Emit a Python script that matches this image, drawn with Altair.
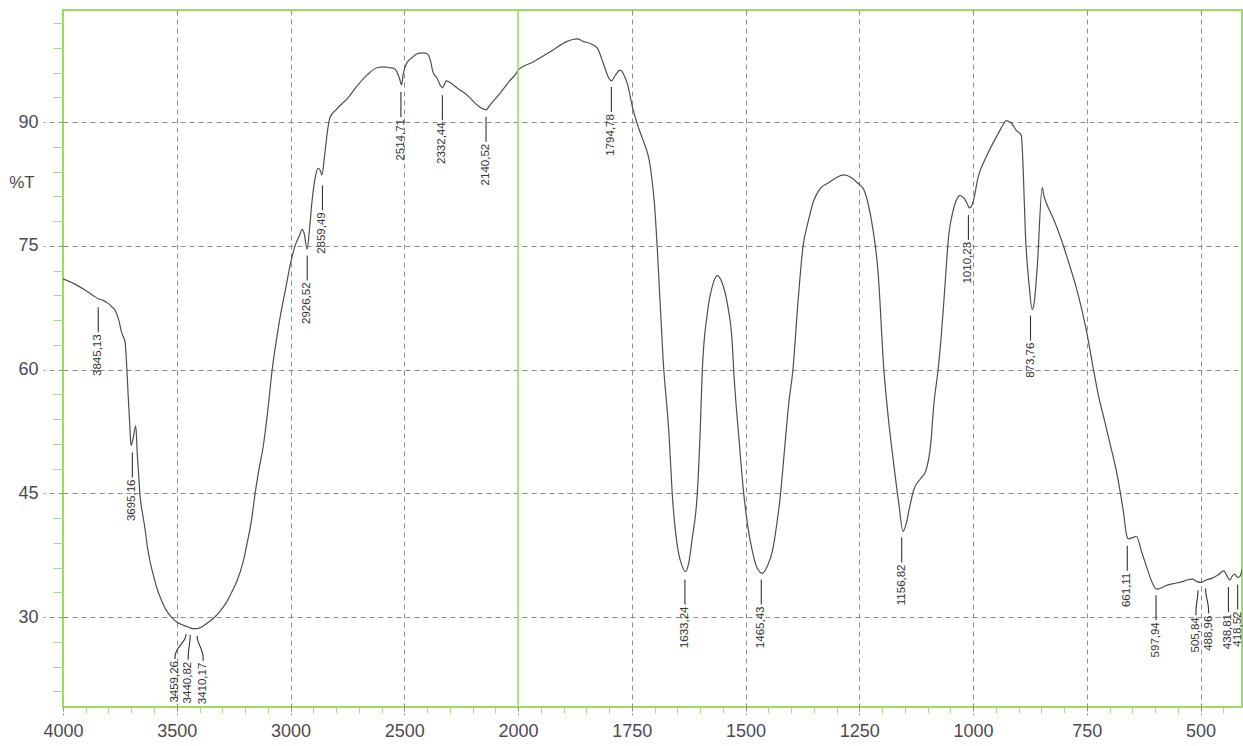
import altair as alt
import pandas as pd

# ---------------- data ----------------
wavenumber = [
    4000, 3950, 3900, 3868, 3845, 3824, 3800, 3785, 3771, 3755, 3741, 3727, 3720, 3714,
    3706, 3701, 3693, 3680, 3674, 3668, 3662, 3650, 3640, 3630, 3618, 3600, 3587, 3565,
    3543, 3520, 3500, 3470, 3450, 3429, 3410, 3385, 3360, 3341, 3310, 3279, 3255, 3235,
    3210, 3191, 3170, 3156, 3140, 3121, 3100, 3081, 3060, 3046, 3020, 3002, 2980, 2960,
    2949, 2940, 2927, 2915, 2905, 2890, 2879, 2870, 2862, 2850, 2835, 2826, 2800, 2775,
    2752, 2710, 2664, 2620, 2590, 2563, 2545, 2532, 2520, 2512, 2505, 2488, 2462, 2444,
    2420, 2400, 2385, 2374, 2355, 2340, 2332, 2315, 2299, 2260, 2224, 2180, 2160, 2141,
    2120, 2079, 2040, 2004,
    2000, 1967, 1930, 1892, 1870, 1857, 1840, 1826, 1813, 1800, 1795, 1785, 1775, 1767,
    1760, 1747, 1735, 1725, 1709, 1700, 1694, 1681, 1668, 1661, 1648, 1640, 1632,
    1625, 1617, 1606, 1600, 1595, 1584, 1572, 1562, 1552, 1540, 1529, 1526, 1515, 1504,
    1495, 1485, 1475, 1463, 1452, 1441, 1432, 1423, 1414, 1405, 1396, 1385, 1374, 1362,
    1350, 1335, 1319, 1300, 1284, 1268, 1253, 1240, 1231, 1220, 1209, 1196, 1185, 1176,
    1163, 1154, 1147, 1141, 1130, 1115, 1104, 1093, 1086, 1077, 1070, 1064, 1053, 1045,
    1037, 1029, 1020, 1011, 1008, 1000, 989, 971, 945, 935, 927, 916, 905, 894, 890, 885,
    877, 870, 866, 859, 848, 844, 839, 822, 805, 791, 775, 762, 750, 736, 725, 711, 698,
    685, 670, 662, 659, 650, 641, 630, 620, 612, 605, 597, 588, 577, 565, 555, 540, 530,
    518, 508, 498, 488, 476, 462, 449, 442, 436, 430, 425, 418, 414, 408, 403,
]
transmittance = [
    71.0, 70.4, 69.6, 69.0, 68.6, 68.4, 68.0, 67.6, 67.2, 66.0, 64.4, 63.3, 60.5, 57.1,
    53.0, 50.8, 51.5, 53.2, 50.0, 47.5, 44.9, 42.5, 40.8, 38.7, 36.8, 34.8, 33.5, 31.9,
    30.7, 29.9, 29.4, 29.0, 28.8, 28.6, 28.6, 28.9, 29.4, 29.8, 30.7, 31.9, 33.2, 34.4,
    36.5, 38.9, 42.0, 44.9, 47.7, 50.5, 55.0, 59.9, 63.9, 66.3, 70.0, 72.6, 75.0, 76.3,
    77.0, 76.5, 74.6, 77.5, 80.5, 83.5, 84.4, 84.2, 83.6, 86.0, 89.4, 90.6, 91.5, 92.2,
    92.8, 94.3, 95.7, 96.6, 96.7, 96.6, 96.5, 96.1, 95.2, 94.5, 95.8, 97.2, 97.9, 98.3,
    98.4, 98.3, 97.5, 96.1, 95.3, 94.4, 94.2, 95.0, 94.8, 94.0, 93.3, 92.1, 91.7, 91.5,
    92.2, 93.5, 94.9, 96.1,
    96.3, 97.3, 98.5, 99.8, 100.1, 99.8, 99.5, 99.0, 97.2, 95.3, 95.0, 95.8, 96.3, 95.7,
    94.7, 91.5, 89.3, 87.8, 84.5, 80.0, 74.8, 61.1, 52.0, 44.9, 38.0, 36.3, 35.5,
    36.5, 39.6, 45.0, 52.0, 59.9, 66.8, 70.3, 71.4, 70.6, 68.0, 63.0, 59.9, 52.0, 45.0,
    41.0, 38.0, 36.0, 35.3, 36.2, 38.0, 41.0, 45.0, 50.5, 55.9, 59.9, 68.0, 74.8, 78.0,
    80.5, 82.0, 82.6, 83.3, 83.6, 83.3, 82.6, 81.8, 80.2, 77.0, 72.0, 60.0, 53.5, 49.3,
    43.7, 40.4, 41.3, 42.9, 45.5, 46.8, 47.7, 51.0, 55.9, 59.9, 64.0, 68.4, 76.5, 79.0,
    80.5, 81.1, 80.8, 79.9, 79.6, 80.3, 83.3, 85.8, 88.6, 89.6, 90.2, 89.9, 89.0, 88.4,
    84.5, 76.5, 70.4, 67.3, 68.0, 72.4, 82.1, 81.0, 80.2, 78.1, 75.6, 73.2, 70.3, 67.5,
    64.5, 60.2, 57.0, 53.8, 50.8, 47.7, 42.9, 39.8, 39.5, 39.6, 39.8, 38.0, 36.3, 35.0,
    34.0, 33.4, 33.5, 33.8, 34.0, 34.1, 34.3, 34.5, 34.6, 34.3, 34.2, 34.5, 34.7, 35.1,
    35.6, 35.0, 34.5, 35.0, 35.2, 34.8, 34.9, 35.8, 36.4,
]

peak_wn = [3845.13, 3695.16, 3459.26, 3440.82, 3410.17, 2926.52, 2859.49, 2514.71,
           2332.44, 2140.52, 1794.78, 1633.24, 1465.43, 1156.82, 1010.23, 873.76,
           661.11, 597.94, 505.84, 488.96, 438.81, 418.52]
peak_T = [68.4, 50.8, 28.8, 28.7, 28.6, 74.7, 83.2, 94.5, 94.1, 91.5, 95.1, 35.4,
          35.4, 40.5, 79.6, 67.4, 39.5, 33.5, 34.1, 34.3, 34.5, 34.8]

x_ticks = list(range(4000, 2000, -100)) + list(range(2000, 400, -50))
y_ticks = list(range(21, 103, 3))

# ---------------- layout / style ----------------
W, H = 1179, 697
X_DOMAIN = [4000, 2000, 409]
X_RANGE = [0, 455, W]
Y_DOMAIN = [19.1, 103.6]
GREEN = "#9bdc5c"
GRID = "#8e8e8e"
CURVE = "#4f4f4f"
TEXT = "#4a4a55"
FONT = "Liberation Sans"

# horizontal shifts (px) of crowded peak labels
label_shift_px = [0, 0, -11, -2, 6, 0, 0, 0, 0, 0, 0, 0, 0, 0, 0, 0, 0, 0, -2, 3, 0, 0]

ppu_y = H / (Y_DOMAIN[1] - Y_DOMAIN[0])


def px_per_unit_x(wn):
    if wn > X_DOMAIN[1]:
        return (X_RANGE[1] - X_RANGE[0]) / (X_DOMAIN[0] - X_DOMAIN[1])
    return (X_RANGE[2] - X_RANGE[1]) / (X_DOMAIN[1] - X_DOMAIN[2])


GAP, BEND1, BEND2, LEN = 7, 5, 17, 25

conn_rows, text_rows = [], []
for i, (w, t) in enumerate(zip(peak_wn, peak_T)):
    lab = f"{w:.2f}".replace(".", ",")
    lx = w - label_shift_px[i] / px_per_unit_x(w)
    pts = [(w, GAP), (w, GAP + BEND1), (lx, GAP + BEND2), (lx, GAP + LEN)]
    for k, (xx, off) in enumerate(pts):
        conn_rows.append({"label": lab, "step": k, "wn": xx, "T": t - off / ppu_y})
    text_rows.append({"label": lab, "wn": lx, "T": t - (GAP + LEN + 2) / ppu_y})

curve_df = pd.DataFrame({"wn": wavenumber, "T": transmittance})
conn_df = pd.DataFrame(conn_rows)
text_df = pd.DataFrame(text_rows)

MAJOR_X = "(datum.value > 2000 ? datum.value % 500 === 0 : datum.value % 250 === 0)"
MAJOR_Y = "(datum.value % 15 === 0)"

x_axis = alt.Axis(
    values=x_ticks, tickCount=1000, format="d", title=None, domain=False,
    labelExpr=f"{MAJOR_X} ? datum.label : ''",
    labelOverlap=False, labelFlush=False, labelBound=False,
    labelFont=FONT, labelFontSize=18, labelColor=TEXT, labelPadding=7,
    grid=True, gridColor=GRID, gridDash=[5, 4], gridWidth=1,
    gridOpacity={"condition": {"test": f"{MAJOR_X} && datum.value !== 4000 && datum.value !== 2000", "value": 1}, "value": 0},
    tickSize={"condition": {"test": MAJOR_X, "value": 8}, "value": 6},
    tickColor={"condition": {"test": MAJOR_X, "value": GRID}, "value": "#a9d98a"},
    tickDash={"condition": {"test": MAJOR_X, "value": [4, 2]}, "value": []},
)
y_axis = alt.Axis(
    values=y_ticks, tickCount=1000, format="d", title=None, domain=False,
    labelExpr=f"{MAJOR_Y} ? datum.label : ''",
    labelOverlap=False, labelFlush=False, labelBound=False,
    labelFont=FONT, labelFontSize=18, labelColor=TEXT, labelPadding=5,
    grid=True, gridColor=GRID, gridDash=[5, 4], gridWidth=1,
    gridOpacity={"condition": {"test": MAJOR_Y, "value": 1}, "value": 0},
    tickSize={"condition": {"test": MAJOR_Y, "value": 20}, "value": 10},
    tickColor={"condition": {"test": MAJOR_Y, "value": GRID}, "value": "#a9d98a"},
    tickDash={"condition": {"test": MAJOR_Y, "value": [5, 4]}, "value": []},
)

xs = alt.Scale(domain=X_DOMAIN, range=X_RANGE)
ys = alt.Scale(domain=Y_DOMAIN)

curve = alt.Chart(curve_df).mark_line(
    color=CURVE, strokeWidth=1.2, clip=True, interpolate="monotone"
).encode(
    x=alt.X("wn:Q", scale=xs, axis=x_axis),
    y=alt.Y("T:Q", scale=ys, axis=y_axis),
    order=alt.Order("wn:Q", sort="descending"),
)

rule2000 = alt.Chart(pd.DataFrame({"wn": [2000]})).mark_rule(
    color=GREEN, strokeWidth=1.6
).encode(x=alt.X("wn:Q", scale=xs))

connectors = alt.Chart(conn_df).mark_line(
    color="#333333", strokeWidth=1.1, interpolate="basis"
).encode(
    x=alt.X("wn:Q", scale=xs),
    y=alt.Y("T:Q", scale=ys),
    detail="label:N",
    order="step:Q",
)

labels = alt.Chart(text_df).mark_text(
    angle=270, align="right", baseline="middle", font=FONT,
    fontSize=11.5, color="#333333"
).encode(
    x=alt.X("wn:Q", scale=xs),
    y=alt.Y("T:Q", scale=ys),
    text="label:N",
)

ylabel = alt.Chart(pd.DataFrame({"t": ["%T"]})).mark_text(
    font=FONT, fontSize=17, color=TEXT, align="center", baseline="middle"
).encode(x=alt.value(-41), y=alt.value(173), text="t:N")

chart = alt.layer(curve, rule2000, connectors, labels, ylabel).properties(
    width=W, height=H,
    padding={"left": 63, "top": 10, "right": 1, "bottom": 39},
    autosize=alt.AutoSizeParams(type="none"),
    background="white",
).configure_view(stroke=GREEN, strokeWidth=2)

chart.save("out.html", embed_options={"renderer": "svg", "actions": False})
